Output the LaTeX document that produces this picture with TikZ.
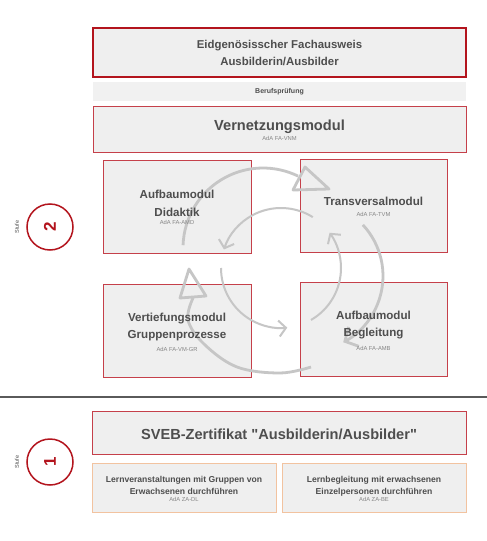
\documentclass[tikz,border=0pt]{standalone}
\usepackage{fontspec}
\setmainfont{Liberation Sans}
\font\svebfont="Liberation Sans/B" at 14.6pt
\usetikzlibrary{arrows.meta}
\definecolor{boxfill}{HTML}{EFEFEF}
\definecolor{bandfill}{HTML}{F1F1F1}
\definecolor{redline}{HTML}{C5404A}
\definecolor{darkred}{HTML}{B3141D}
\definecolor{orangeline}{HTML}{F2C3A0}
\definecolor{txt}{HTML}{4E4E4E}
\definecolor{subtxt}{HTML}{858585}
\definecolor{cyc}{HTML}{C6C6C6}
\definecolor{sepline}{HTML}{5A5A5A}
\begin{document}
\begin{tikzpicture}[x=1pt,y=-1pt,
  box/.style={draw=redline, line width=1pt, fill=boxfill, inner sep=0pt, outer sep=0pt},
  obox/.style={draw=orangeline, line width=1pt, fill=boxfill, inner sep=0pt, outer sep=0pt},
  ttl/.style={font=\fontsize{11.6}{14}\selectfont\bfseries, text=txt, anchor=base, inner sep=0pt},
  toptl/.style={font=\fontsize{11.4}{14}\selectfont\bfseries, text=txt, anchor=base, inner sep=0pt},
  bigtl/.style={font=\fontsize{14.6}{17}\selectfont\bfseries, text=txt, anchor=base, inner sep=0pt},
  smtl/.style={font=\fontsize{8.6}{10}\selectfont\bfseries, text=txt, anchor=base, inner sep=0pt},
  subtl/.style={font=\fontsize{5.8}{7}\selectfont, text=subtxt, anchor=base, inner sep=0pt},
  stufelbl/.style={font=\fontsize{5.5}{6}\selectfont, text=txt, rotate=90, inner sep=0pt},
  stufecirc/.style={circle, draw=darkred, line width=1.5pt, minimum size=46pt, inner sep=0pt,
    font=\fontsize{17}{20}\selectfont\bfseries, text=darkred, rotate=90},
  cycout/.style={draw=cyc, line width=2.8pt, line join=round},
  cycin/.style={draw=cyc, line width=2pt}
]
\useasboundingbox (0,0) rectangle (487,541);
\fill[white] (0,0) rectangle (487,541);

% boxes
\node[box, draw=darkred, line width=2pt, minimum width=373pt, minimum height=49pt] (top) at (279.5,52.5) {};
\node[fill=bandfill, inner sep=0pt, minimum width=373pt, minimum height=19pt] (band) at (279.5,91.5) {};
\node[box, minimum width=373pt, minimum height=46pt] (vnm) at (279.5,129) {};
\node[box, minimum width=148pt, minimum height=93pt] (amd) at (177,206.5) {};
\node[box, minimum width=147pt, minimum height=93pt] (tvm) at (373.5,205.5) {};
\node[box, minimum width=148pt, minimum height=93pt] (vm) at (177,330.5) {};
\node[box, minimum width=147pt, minimum height=94pt] (amb) at (373.5,329) {};
\node[box, minimum width=374pt, minimum height=43pt] (sveb) at (279,432.5) {};
\node[obox, minimum width=184pt, minimum height=49pt] (dl) at (184,487.5) {};
\node[obox, minimum width=184pt, minimum height=49pt] (be) at (374,487.5) {};

% separator
\coordinate (sepL) at (0,397);
\coordinate (sepR) at (487,397);
\draw[sepline, line width=2.5pt] (sepL) -- (sepR);

% cycle arrows: outer
\draw[cycout] (263,248) ++(-178:80) arc[start angle=-178, end angle=-64, radius=80];
\draw[cycout] (305,167) -- (329,189) -- (293,190) -- cycle;
\draw[cycout, -{Straight Barb[length=10pt, width=22pt]}]
  (308,276) ++(-43:75) arc[start angle=-43, end angle=62, radius=75];
\draw[cycout] plot[smooth, tension=0.6] coordinates {(311,367) (280,373) (237,367) (204,344) (188,320) (193,298)};
\draw[cycout] (180,298) -- (189,269) -- (206,296) -- cycle;
% cycle arrows: inner
\draw[cycin, -{Straight Barb[length=7pt, width=16pt]}]
  (281,268) ++(-58:60) arc[start angle=-58, end angle=-162, radius=60];
\draw[cycin, -{Straight Barb[length=7pt, width=16pt]}]
  (281,268) ++(-180:60) arc[start angle=-180, end angle=-276, radius=60];
\draw[cycin, -{Straight Barb[length=7pt, width=16pt]}]
  (281,268) ++(-300:60) arc[start angle=-300, end angle=-396, radius=60];

% texts
\node[toptl] (topA) at (279.5,48.5) {Eidgenösisscher Fachausweis};
\node[toptl] (topB) at (279.5,65.3) {Ausbilderin/Ausbilder};
\node[font=\fontsize{7}{8}\selectfont\bfseries, text=txt, anchor=base, inner sep=0pt] (bandT) at (279.5,93.7) {Berufsprüfung};
\node[bigtl] (vnmT) at (279.5,130.7) {Vernetzungsmodul};
\node[subtl] (vnmS) at (279.5,140.7) {AdA FA-VNM};

\node[ttl] (amdA) at (177,198.7) {Aufbaumodul};
\node[ttl] (amdB) at (177,216) {Didaktik};
\node[subtl] (amdS) at (177,224.7) {AdA FA-AMD};

\node[ttl] (tvmA) at (373.5,205) {Transversalmodul};
\node[subtl] (tvmS) at (373.5,216.7) {AdA FA-TVM};

\node[ttl] (vmA) at (177,321.7) {Vertiefungsmodul};
\node[ttl] (vmB) at (177,338.3) {Gruppenprozesse};
\node[subtl] (vmS) at (177,351.3) {AdA FA-VM-GR};

\node[ttl] (ambA) at (373.5,319.3) {Aufbaumodul};
\node[ttl] (ambB) at (373.5,336.7) {Begleitung};
\node[subtl] (ambS) at (373.5,350) {AdA FA-AMB};

\node[text=txt, anchor=base, inner sep=0pt] (svebT) at (279,439) {\svebfont SVEB-Zertifikat "Ausbilderin/Ausbilder"};

\node[smtl] (dlA) at (184,482) {Lernveranstaltungen mit Gruppen von};
\node[smtl] (dlB) at (184,494.3) {Erwachsenen durchführen};
\node[subtl] (dlS) at (184,501.3) {AdA ZA-DL};

\node[smtl] (beA) at (374,482) {Lernbegleitung mit erwachsenen};
\node[smtl] (beB) at (374,494.3) {Einzelpersonen durchführen};
\node[subtl] (beS) at (374,501.3) {AdA ZA-BE};

% Stufen
\node[stufelbl] (st2) at (17,227) {Stufe};
\node[stufecirc] (c2) at (50,227) {2};
\node[stufelbl] (st1) at (17,462) {Stufe};
\node[stufecirc] (c1) at (50,462) {1};
\end{tikzpicture}
\end{document}
